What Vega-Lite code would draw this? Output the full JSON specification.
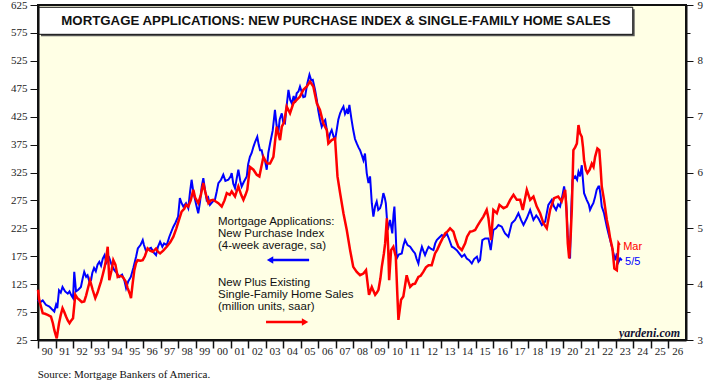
{
  "$schema": "https://vega.github.io/schema/vega-lite/v6.json",
  "width": 648,
  "height": 335,
  "autosize": "none",
  "padding": {"left": 38, "top": 5, "right": 30, "bottom": 44},
  "background": "white",
  "config": {
    "view": {"fill": "#ffffe5", "stroke": "#111111", "strokeWidth": 2},
    "font": "Liberation Sans"
  },
  "datasets": {
    "apps": [
      {"year": 1990.0, "v": 97}, {"year": 1990.1, "v": 92}, {"year": 1990.27, "v": 96}, {"year": 1990.45, "v": 88}, {"year": 1990.65, "v": 85}, {"year": 1990.8, "v": 80}, {"year": 1990.93, "v": 76}, {"year": 1991.03, "v": 88}, {"year": 1991.1, "v": 82}, {"year": 1991.2, "v": 114}, {"year": 1991.3, "v": 110}, {"year": 1991.4, "v": 120}, {"year": 1991.55, "v": 112}, {"year": 1991.7, "v": 108}, {"year": 1991.8, "v": 112}, {"year": 1991.9, "v": 105}, {"year": 1992.0, "v": 100}, {"year": 1992.07, "v": 147}, {"year": 1992.12, "v": 130}, {"year": 1992.17, "v": 112}, {"year": 1992.3, "v": 115}, {"year": 1992.45, "v": 120}, {"year": 1992.55, "v": 135}, {"year": 1992.64, "v": 147}, {"year": 1992.75, "v": 138}, {"year": 1992.83, "v": 141}, {"year": 1992.93, "v": 130}, {"year": 1993.03, "v": 132}, {"year": 1993.1, "v": 145}, {"year": 1993.2, "v": 154}, {"year": 1993.3, "v": 148}, {"year": 1993.4, "v": 160}, {"year": 1993.5, "v": 165}, {"year": 1993.6, "v": 158}, {"year": 1993.7, "v": 171}, {"year": 1993.8, "v": 177}, {"year": 1993.9, "v": 163}, {"year": 1994.0, "v": 168}, {"year": 1994.07, "v": 172}, {"year": 1994.2, "v": 160}, {"year": 1994.36, "v": 150}, {"year": 1994.5, "v": 145}, {"year": 1994.64, "v": 138}, {"year": 1994.8, "v": 142}, {"year": 1994.93, "v": 132}, {"year": 1995.03, "v": 118}, {"year": 1995.15, "v": 130}, {"year": 1995.3, "v": 138}, {"year": 1995.45, "v": 155}, {"year": 1995.6, "v": 174}, {"year": 1995.7, "v": 189}, {"year": 1995.85, "v": 195}, {"year": 1995.98, "v": 204}, {"year": 1996.05, "v": 195}, {"year": 1996.17, "v": 184}, {"year": 1996.3, "v": 188}, {"year": 1996.45, "v": 190}, {"year": 1996.6, "v": 182}, {"year": 1996.74, "v": 177}, {"year": 1996.85, "v": 192}, {"year": 1996.97, "v": 201}, {"year": 1997.1, "v": 192}, {"year": 1997.2, "v": 198}, {"year": 1997.35, "v": 195}, {"year": 1997.5, "v": 210}, {"year": 1997.6, "v": 218}, {"year": 1997.73, "v": 228}, {"year": 1997.85, "v": 235}, {"year": 1998.0, "v": 246}, {"year": 1998.1, "v": 279}, {"year": 1998.2, "v": 270}, {"year": 1998.3, "v": 264}, {"year": 1998.45, "v": 270}, {"year": 1998.58, "v": 261}, {"year": 1998.68, "v": 290}, {"year": 1998.77, "v": 312}, {"year": 1998.87, "v": 290}, {"year": 1998.97, "v": 276}, {"year": 1999.05, "v": 265}, {"year": 1999.15, "v": 252}, {"year": 1999.25, "v": 272}, {"year": 1999.35, "v": 300}, {"year": 1999.44, "v": 315}, {"year": 1999.53, "v": 295}, {"year": 1999.63, "v": 276}, {"year": 1999.72, "v": 280}, {"year": 1999.82, "v": 267}, {"year": 1999.95, "v": 272}, {"year": 2000.1, "v": 276}, {"year": 2000.2, "v": 290}, {"year": 2000.3, "v": 306}, {"year": 2000.45, "v": 312}, {"year": 2000.58, "v": 321}, {"year": 2000.7, "v": 310}, {"year": 2000.87, "v": 312}, {"year": 2001.0, "v": 318}, {"year": 2001.06, "v": 324}, {"year": 2001.15, "v": 305}, {"year": 2001.25, "v": 297}, {"year": 2001.35, "v": 315}, {"year": 2001.44, "v": 330}, {"year": 2001.55, "v": 310}, {"year": 2001.63, "v": 300}, {"year": 2001.75, "v": 308}, {"year": 2001.92, "v": 318}, {"year": 2002.0, "v": 340}, {"year": 2002.1, "v": 353}, {"year": 2002.2, "v": 360}, {"year": 2002.3, "v": 371}, {"year": 2002.4, "v": 380}, {"year": 2002.52, "v": 389}, {"year": 2002.6, "v": 375}, {"year": 2002.68, "v": 365}, {"year": 2002.77, "v": 365}, {"year": 2002.87, "v": 350}, {"year": 2002.96, "v": 347}, {"year": 2003.06, "v": 330}, {"year": 2003.15, "v": 360}, {"year": 2003.25, "v": 377}, {"year": 2003.4, "v": 400}, {"year": 2003.53, "v": 437}, {"year": 2003.62, "v": 410}, {"year": 2003.72, "v": 395}, {"year": 2003.8, "v": 420}, {"year": 2003.92, "v": 431}, {"year": 2004.0, "v": 415}, {"year": 2004.1, "v": 413}, {"year": 2004.2, "v": 445}, {"year": 2004.3, "v": 473}, {"year": 2004.4, "v": 455}, {"year": 2004.49, "v": 449}, {"year": 2004.6, "v": 462}, {"year": 2004.68, "v": 450}, {"year": 2004.77, "v": 467}, {"year": 2004.87, "v": 470}, {"year": 2004.96, "v": 479}, {"year": 2005.05, "v": 470}, {"year": 2005.15, "v": 460}, {"year": 2005.25, "v": 461}, {"year": 2005.38, "v": 485}, {"year": 2005.5, "v": 500}, {"year": 2005.6, "v": 490}, {"year": 2005.69, "v": 491}, {"year": 2005.82, "v": 473}, {"year": 2005.92, "v": 455}, {"year": 2006.0, "v": 437}, {"year": 2006.1, "v": 420}, {"year": 2006.2, "v": 407}, {"year": 2006.3, "v": 415}, {"year": 2006.4, "v": 419}, {"year": 2006.5, "v": 400}, {"year": 2006.58, "v": 383}, {"year": 2006.68, "v": 395}, {"year": 2006.77, "v": 401}, {"year": 2006.87, "v": 390}, {"year": 2006.96, "v": 383}, {"year": 2007.05, "v": 400}, {"year": 2007.15, "v": 420}, {"year": 2007.25, "v": 431}, {"year": 2007.35, "v": 438}, {"year": 2007.44, "v": 443}, {"year": 2007.53, "v": 430}, {"year": 2007.63, "v": 437}, {"year": 2007.7, "v": 430}, {"year": 2007.78, "v": 446}, {"year": 2007.9, "v": 420}, {"year": 2008.0, "v": 401}, {"year": 2008.1, "v": 385}, {"year": 2008.2, "v": 377}, {"year": 2008.3, "v": 370}, {"year": 2008.39, "v": 365}, {"year": 2008.5, "v": 355}, {"year": 2008.58, "v": 347}, {"year": 2008.67, "v": 359}, {"year": 2008.77, "v": 324}, {"year": 2008.87, "v": 306}, {"year": 2008.96, "v": 318}, {"year": 2009.06, "v": 270}, {"year": 2009.15, "v": 246}, {"year": 2009.25, "v": 265}, {"year": 2009.34, "v": 273}, {"year": 2009.43, "v": 258}, {"year": 2009.53, "v": 261}, {"year": 2009.62, "v": 270}, {"year": 2009.72, "v": 288}, {"year": 2009.8, "v": 280}, {"year": 2009.86, "v": 270}, {"year": 2009.97, "v": 222}, {"year": 2010.1, "v": 240}, {"year": 2010.23, "v": 216}, {"year": 2010.3, "v": 250}, {"year": 2010.35, "v": 264}, {"year": 2010.42, "v": 220}, {"year": 2010.48, "v": 171}, {"year": 2010.6, "v": 178}, {"year": 2010.77, "v": 180}, {"year": 2010.87, "v": 195}, {"year": 2010.96, "v": 204}, {"year": 2011.1, "v": 195}, {"year": 2011.25, "v": 192}, {"year": 2011.4, "v": 185}, {"year": 2011.53, "v": 180}, {"year": 2011.62, "v": 170}, {"year": 2011.72, "v": 162}, {"year": 2011.82, "v": 180}, {"year": 2011.92, "v": 192}, {"year": 2012.0, "v": 185}, {"year": 2012.1, "v": 177}, {"year": 2012.2, "v": 185}, {"year": 2012.3, "v": 192}, {"year": 2012.45, "v": 188}, {"year": 2012.58, "v": 186}, {"year": 2012.68, "v": 198}, {"year": 2012.77, "v": 204}, {"year": 2012.9, "v": 208}, {"year": 2013.06, "v": 213}, {"year": 2013.2, "v": 210}, {"year": 2013.34, "v": 216}, {"year": 2013.48, "v": 205}, {"year": 2013.63, "v": 192}, {"year": 2013.75, "v": 190}, {"year": 2013.91, "v": 186}, {"year": 2014.05, "v": 180}, {"year": 2014.2, "v": 174}, {"year": 2014.35, "v": 178}, {"year": 2014.48, "v": 171}, {"year": 2014.62, "v": 168}, {"year": 2014.77, "v": 162}, {"year": 2014.9, "v": 170}, {"year": 2015.06, "v": 174}, {"year": 2015.15, "v": 165}, {"year": 2015.24, "v": 168}, {"year": 2015.37, "v": 204}, {"year": 2015.53, "v": 207}, {"year": 2015.72, "v": 207}, {"year": 2015.85, "v": 186}, {"year": 2016.0, "v": 222}, {"year": 2016.15, "v": 225}, {"year": 2016.29, "v": 231}, {"year": 2016.48, "v": 228}, {"year": 2016.6, "v": 220}, {"year": 2016.67, "v": 216}, {"year": 2016.86, "v": 210}, {"year": 2017.05, "v": 234}, {"year": 2017.24, "v": 240}, {"year": 2017.43, "v": 252}, {"year": 2017.58, "v": 240}, {"year": 2017.72, "v": 231}, {"year": 2017.91, "v": 243}, {"year": 2018.1, "v": 258}, {"year": 2018.29, "v": 240}, {"year": 2018.45, "v": 248}, {"year": 2018.57, "v": 243}, {"year": 2018.77, "v": 231}, {"year": 2018.96, "v": 237}, {"year": 2019.14, "v": 267}, {"year": 2019.34, "v": 276}, {"year": 2019.45, "v": 265}, {"year": 2019.58, "v": 258}, {"year": 2019.7, "v": 268}, {"year": 2019.81, "v": 264}, {"year": 2019.95, "v": 285}, {"year": 2020.04, "v": 300}, {"year": 2020.15, "v": 276}, {"year": 2020.25, "v": 210}, {"year": 2020.33, "v": 180}, {"year": 2020.38, "v": 171}, {"year": 2020.45, "v": 260}, {"year": 2020.52, "v": 312}, {"year": 2020.67, "v": 318}, {"year": 2020.78, "v": 312}, {"year": 2020.86, "v": 326}, {"year": 2020.95, "v": 318}, {"year": 2021.05, "v": 338}, {"year": 2021.12, "v": 310}, {"year": 2021.18, "v": 288}, {"year": 2021.33, "v": 276}, {"year": 2021.45, "v": 268}, {"year": 2021.52, "v": 258}, {"year": 2021.62, "v": 265}, {"year": 2021.71, "v": 270}, {"year": 2021.8, "v": 280}, {"year": 2021.9, "v": 294}, {"year": 2022.0, "v": 300}, {"year": 2022.05, "v": 300}, {"year": 2022.12, "v": 285}, {"year": 2022.19, "v": 264}, {"year": 2022.32, "v": 252}, {"year": 2022.4, "v": 240}, {"year": 2022.48, "v": 228}, {"year": 2022.58, "v": 215}, {"year": 2022.67, "v": 204}, {"year": 2022.78, "v": 190}, {"year": 2022.86, "v": 180}, {"year": 2022.96, "v": 168}, {"year": 2023.05, "v": 180}, {"year": 2023.15, "v": 165}, {"year": 2023.24, "v": 171}, {"year": 2023.34, "v": 168}
    ],
    "sales": [
      {"year": 1990.0, "v": 3.9}, {"year": 1990.07, "v": 3.72}, {"year": 1990.17, "v": 3.6}, {"year": 1990.27, "v": 3.48}, {"year": 1990.4, "v": 3.47}, {"year": 1990.55, "v": 3.45}, {"year": 1990.74, "v": 3.42}, {"year": 1990.85, "v": 3.3}, {"year": 1990.93, "v": 3.18}, {"year": 1991.0, "v": 3.1}, {"year": 1991.07, "v": 3.03}, {"year": 1991.2, "v": 3.3}, {"year": 1991.3, "v": 3.45}, {"year": 1991.4, "v": 3.57}, {"year": 1991.5, "v": 3.5}, {"year": 1991.6, "v": 3.42}, {"year": 1991.7, "v": 3.35}, {"year": 1991.8, "v": 3.3}, {"year": 1991.9, "v": 3.35}, {"year": 1992.0, "v": 3.39}, {"year": 1992.13, "v": 3.81}, {"year": 1992.25, "v": 3.75}, {"year": 1992.36, "v": 3.72}, {"year": 1992.5, "v": 3.68}, {"year": 1992.64, "v": 3.69}, {"year": 1992.75, "v": 3.8}, {"year": 1992.83, "v": 3.9}, {"year": 1992.97, "v": 4.07}, {"year": 1993.05, "v": 3.98}, {"year": 1993.12, "v": 3.9}, {"year": 1993.27, "v": 3.75}, {"year": 1993.4, "v": 3.85}, {"year": 1993.5, "v": 3.95}, {"year": 1993.6, "v": 4.05}, {"year": 1993.69, "v": 4.16}, {"year": 1993.8, "v": 4.3}, {"year": 1993.88, "v": 4.43}, {"year": 1993.98, "v": 4.67}, {"year": 1994.07, "v": 4.07}, {"year": 1994.2, "v": 4.25}, {"year": 1994.3, "v": 4.43}, {"year": 1994.42, "v": 4.35}, {"year": 1994.55, "v": 4.13}, {"year": 1994.7, "v": 4.15}, {"year": 1994.84, "v": 4.13}, {"year": 1995.0, "v": 4.05}, {"year": 1995.12, "v": 3.93}, {"year": 1995.25, "v": 3.82}, {"year": 1995.31, "v": 3.75}, {"year": 1995.4, "v": 4.0}, {"year": 1995.5, "v": 4.25}, {"year": 1995.6, "v": 4.38}, {"year": 1995.69, "v": 4.43}, {"year": 1995.85, "v": 4.42}, {"year": 1995.98, "v": 4.43}, {"year": 1996.1, "v": 4.5}, {"year": 1996.26, "v": 4.64}, {"year": 1996.4, "v": 4.6}, {"year": 1996.55, "v": 4.58}, {"year": 1996.74, "v": 4.64}, {"year": 1996.85, "v": 4.58}, {"year": 1996.97, "v": 4.55}, {"year": 1997.15, "v": 4.6}, {"year": 1997.35, "v": 4.67}, {"year": 1997.55, "v": 4.75}, {"year": 1997.73, "v": 4.85}, {"year": 1997.9, "v": 5.0}, {"year": 1998.05, "v": 5.15}, {"year": 1998.2, "v": 5.3}, {"year": 1998.35, "v": 5.35}, {"year": 1998.45, "v": 5.42}, {"year": 1998.58, "v": 5.39}, {"year": 1998.72, "v": 5.5}, {"year": 1998.87, "v": 5.69}, {"year": 1998.97, "v": 5.55}, {"year": 1999.15, "v": 5.45}, {"year": 1999.3, "v": 5.6}, {"year": 1999.44, "v": 5.81}, {"year": 1999.55, "v": 5.65}, {"year": 1999.73, "v": 5.45}, {"year": 1999.87, "v": 5.5}, {"year": 2000.0, "v": 5.51}, {"year": 2000.15, "v": 5.48}, {"year": 2000.3, "v": 5.45}, {"year": 2000.49, "v": 5.39}, {"year": 2000.65, "v": 5.5}, {"year": 2000.78, "v": 5.63}, {"year": 2000.95, "v": 5.6}, {"year": 2001.06, "v": 5.66}, {"year": 2001.25, "v": 5.57}, {"year": 2001.44, "v": 5.75}, {"year": 2001.6, "v": 5.6}, {"year": 2001.73, "v": 5.51}, {"year": 2001.85, "v": 5.6}, {"year": 2001.95, "v": 5.69}, {"year": 2002.1, "v": 6.1}, {"year": 2002.3, "v": 6.05}, {"year": 2002.49, "v": 5.96}, {"year": 2002.64, "v": 5.93}, {"year": 2002.75, "v": 6.1}, {"year": 2002.87, "v": 6.28}, {"year": 2003.0, "v": 6.2}, {"year": 2003.1, "v": 6.16}, {"year": 2003.25, "v": 6.16}, {"year": 2003.44, "v": 6.28}, {"year": 2003.55, "v": 6.6}, {"year": 2003.63, "v": 6.82}, {"year": 2003.72, "v": 6.7}, {"year": 2003.82, "v": 6.58}, {"year": 2003.92, "v": 6.82}, {"year": 2004.05, "v": 6.9}, {"year": 2004.2, "v": 7.18}, {"year": 2004.39, "v": 7.06}, {"year": 2004.58, "v": 7.24}, {"year": 2004.77, "v": 7.3}, {"year": 2004.96, "v": 7.36}, {"year": 2005.15, "v": 7.48}, {"year": 2005.35, "v": 7.54}, {"year": 2005.53, "v": 7.63}, {"year": 2005.72, "v": 7.54}, {"year": 2005.92, "v": 7.24}, {"year": 2006.1, "v": 7.12}, {"year": 2006.29, "v": 6.88}, {"year": 2006.49, "v": 6.76}, {"year": 2006.58, "v": 6.52}, {"year": 2006.77, "v": 6.58}, {"year": 2006.96, "v": 6.61}, {"year": 2007.1, "v": 5.93}, {"year": 2007.25, "v": 5.63}, {"year": 2007.44, "v": 5.27}, {"year": 2007.63, "v": 4.97}, {"year": 2007.82, "v": 4.61}, {"year": 2008.0, "v": 4.31}, {"year": 2008.2, "v": 4.22}, {"year": 2008.39, "v": 4.16}, {"year": 2008.58, "v": 4.19}, {"year": 2008.73, "v": 4.25}, {"year": 2008.9, "v": 3.81}, {"year": 2009.06, "v": 3.95}, {"year": 2009.15, "v": 3.88}, {"year": 2009.25, "v": 3.81}, {"year": 2009.35, "v": 3.85}, {"year": 2009.44, "v": 3.9}, {"year": 2009.55, "v": 4.1}, {"year": 2009.63, "v": 4.31}, {"year": 2009.75, "v": 4.55}, {"year": 2009.82, "v": 4.73}, {"year": 2009.92, "v": 5.18}, {"year": 2010.0, "v": 4.6}, {"year": 2010.05, "v": 4.07}, {"year": 2010.16, "v": 4.61}, {"year": 2010.29, "v": 4.67}, {"year": 2010.43, "v": 4.49}, {"year": 2010.52, "v": 3.8}, {"year": 2010.58, "v": 3.36}, {"year": 2010.73, "v": 3.72}, {"year": 2010.86, "v": 3.78}, {"year": 2011.05, "v": 4.16}, {"year": 2011.15, "v": 4.05}, {"year": 2011.25, "v": 3.95}, {"year": 2011.4, "v": 4.0}, {"year": 2011.53, "v": 4.01}, {"year": 2011.72, "v": 4.13}, {"year": 2011.85, "v": 4.15}, {"year": 2012.0, "v": 4.22}, {"year": 2012.15, "v": 4.3}, {"year": 2012.3, "v": 4.34}, {"year": 2012.48, "v": 4.34}, {"year": 2012.67, "v": 4.55}, {"year": 2012.8, "v": 4.62}, {"year": 2012.96, "v": 4.73}, {"year": 2013.1, "v": 4.82}, {"year": 2013.25, "v": 4.91}, {"year": 2013.4, "v": 4.95}, {"year": 2013.53, "v": 5.0}, {"year": 2013.72, "v": 4.94}, {"year": 2013.85, "v": 4.8}, {"year": 2014.0, "v": 4.67}, {"year": 2014.2, "v": 4.61}, {"year": 2014.39, "v": 4.73}, {"year": 2014.5, "v": 4.85}, {"year": 2014.67, "v": 4.94}, {"year": 2014.82, "v": 4.95}, {"year": 2014.96, "v": 4.97}, {"year": 2015.1, "v": 5.05}, {"year": 2015.24, "v": 5.12}, {"year": 2015.43, "v": 5.21}, {"year": 2015.62, "v": 5.33}, {"year": 2015.72, "v": 5.18}, {"year": 2015.87, "v": 4.79}, {"year": 2016.0, "v": 5.33}, {"year": 2016.2, "v": 5.27}, {"year": 2016.35, "v": 5.42}, {"year": 2016.58, "v": 5.36}, {"year": 2016.77, "v": 5.39}, {"year": 2016.96, "v": 5.51}, {"year": 2017.15, "v": 5.6}, {"year": 2017.34, "v": 5.51}, {"year": 2017.53, "v": 5.51}, {"year": 2017.68, "v": 5.33}, {"year": 2017.91, "v": 5.69}, {"year": 2018.1, "v": 5.51}, {"year": 2018.29, "v": 5.57}, {"year": 2018.48, "v": 5.39}, {"year": 2018.67, "v": 5.27}, {"year": 2018.86, "v": 5.09}, {"year": 2019.05, "v": 5.0}, {"year": 2019.24, "v": 5.33}, {"year": 2019.47, "v": 5.54}, {"year": 2019.7, "v": 5.57}, {"year": 2019.9, "v": 5.48}, {"year": 2020.1, "v": 5.69}, {"year": 2020.18, "v": 5.3}, {"year": 2020.25, "v": 4.73}, {"year": 2020.33, "v": 4.46}, {"year": 2020.42, "v": 4.9}, {"year": 2020.48, "v": 5.33}, {"year": 2020.57, "v": 6.4}, {"year": 2020.67, "v": 6.45}, {"year": 2020.77, "v": 6.52}, {"year": 2020.86, "v": 6.85}, {"year": 2020.95, "v": 6.7}, {"year": 2021.05, "v": 6.64}, {"year": 2021.12, "v": 6.45}, {"year": 2021.18, "v": 6.22}, {"year": 2021.28, "v": 6.05}, {"year": 2021.37, "v": 5.99}, {"year": 2021.5, "v": 6.05}, {"year": 2021.62, "v": 6.16}, {"year": 2021.72, "v": 6.1}, {"year": 2021.81, "v": 6.28}, {"year": 2021.94, "v": 6.43}, {"year": 2022.05, "v": 6.4}, {"year": 2022.12, "v": 6.1}, {"year": 2022.19, "v": 5.75}, {"year": 2022.32, "v": 5.51}, {"year": 2022.48, "v": 5.15}, {"year": 2022.58, "v": 5.0}, {"year": 2022.67, "v": 4.82}, {"year": 2022.8, "v": 4.64}, {"year": 2022.91, "v": 4.28}, {"year": 2023.05, "v": 4.25}, {"year": 2023.15, "v": 4.73}, {"year": 2023.21, "v": 4.7}
    ]
  },
  "layer": [
    {
      "data": {"name": "apps"},
      "mark": {"type": "line", "color": "#0000ff", "strokeWidth": 2},
      "encoding": {
        "x": {
          "field": "year", "type": "quantitative",
          "scale": {"domain": [1990, 2027], "nice": false, "zero": false},
          "axis": {
            "title": null, "orient": "bottom",
            "values": [1990,1991,1992,1993,1994,1995,1996,1997,1998,1999,2000,2001,2002,2003,2004,2005,2006,2007,2008,2009,2010,2011,2012,2013,2014,2015,2016,2017,2018,2019,2020,2021,2022,2023,2024,2025,2026],
            "labelExpr": "format(datum.value % 100, '02d')",
            "labelOffset": 8.75, "labelFlush": false, "labelOverlap": false,
            "tickSize": 8, "tickColor": "#111111", "tickWidth": 1.5,
            "domainColor": "#111111", "domainWidth": 2,
            "labelPadding": -3, "labelFont": "Liberation Serif", "labelFontSize": 11, "labelColor": "#222222",
            "grid": false
          }
        },
        "y": {
          "field": "v", "type": "quantitative",
          "scale": {"domain": [25, 625], "nice": false, "zero": false},
          "axis": {
            "title": null, "orient": "left",
            "values": [25,75,125,175,225,275,325,375,425,475,525,575,625],
            "labelFlush": false, "labelOverlap": false,
            "tickSize": 8, "tickColor": "#111111", "tickWidth": 1,
            "domainColor": "#111111", "domainWidth": 2,
            "labelPadding": 3, "labelFont": "Liberation Serif", "labelFontSize": 11, "labelColor": "#222222",
            "grid": false
          }
        }
      }
    },
    {
      "data": {"name": "sales"},
      "mark": {"type": "line", "color": "#ff0000", "strokeWidth": 2.5},
      "encoding": {
        "x": {"field": "year", "type": "quantitative", "scale": {"domain": [1990, 2027], "nice": false, "zero": false}, "axis": null},
        "y": {
          "field": "v", "type": "quantitative",
          "scale": {"domain": [3, 9], "nice": false, "zero": false},
          "axis": {
            "title": null, "orient": "right",
            "values": [3, 3.5, 4, 4.5, 5, 5.5, 6, 6.5, 7, 7.5, 8, 8.5, 9],
            "labelExpr": "datum.value % 1 === 0 ? format(datum.value, 'd') : ''",
            "labelFlush": false, "labelOverlap": false,
            "tickSize": {"condition": {"test": "datum.value % 1 !== 0", "value": 4}, "value": 7},
            "tickColor": "#111111", "tickWidth": 1,
            "domainColor": "#111111", "domainWidth": 2,
            "labelPadding": 4, "labelFont": "Liberation Serif", "labelFontSize": 11, "labelColor": "#222222",
            "grid": false
          }
        }
      }
    },
    {
      "data": {"values": [{}]},
      "mark": {"type": "rect", "fill": "#555555"},
      "encoding": {
        "x": {"datum": 1990.17, "type": "quantitative", "scale": {"domain": [1990, 2027], "nice": false, "zero": false}, "axis": null},
        "x2": {"datum": 2024.07},
        "y": {"datum": 617.3, "type": "quantitative", "scale": {"domain": [25, 625], "nice": false, "zero": false}, "axis": null},
        "y2": {"datum": 568.9}
      }
    },
    {
      "data": {"values": [{}]},
      "mark": {"type": "rect", "fill": "#ffffff", "stroke": "#111111", "strokeWidth": 1},
      "encoding": {
        "x": {"datum": 1990.06, "type": "quantitative", "scale": {"domain": [1990, 2027], "nice": false, "zero": false}, "axis": null},
        "x2": {"datum": 2023.96},
        "y": {"datum": 620.9, "type": "quantitative", "scale": {"domain": [25, 625], "nice": false, "zero": false}, "axis": null},
        "y2": {"datum": 572.5}
      }
    },
    {
      "data": {"values": [{}]},
      "mark": {"type": "text", "text": "MORTGAGE APPLICATIONS: NEW PURCHASE INDEX & SINGLE-FAMILY HOME SALES", "font": "Liberation Sans", "fontWeight": "bold", "fontSize": 13.25, "color": "#111111", "align": "center", "baseline": "middle"},
      "encoding": {
        "x": {"datum": 2007.01, "type": "quantitative", "scale": {"domain": [1990, 2027], "nice": false, "zero": false}, "axis": null},
        "y": {"datum": 596.4, "type": "quantitative", "scale": {"domain": [25, 625], "nice": false, "zero": false}, "axis": null}
      }
    },
    {
      "data": {"values": [{}]},
      "mark": {"type": "text", "text": ["Mortgage Applications:", "New Purchase Index", "(4-week average, sa)"], "font": "Liberation Sans", "fontSize": 11.5, "lineHeight": 12, "color": "#111111", "align": "left", "baseline": "top"},
      "encoding": {
        "x": {"datum": 2000.28, "type": "quantitative", "scale": {"domain": [1990, 2027], "nice": false, "zero": false}, "axis": null},
        "y": {"datum": 246.5, "type": "quantitative", "scale": {"domain": [25, 625], "nice": false, "zero": false}, "axis": null}
      }
    },
    {
      "data": {"values": [{}]},
      "mark": {"type": "text", "text": ["New Plus Existing", "Single-Family Home Sales", "(million units, saar)"], "font": "Liberation Sans", "fontSize": 11.5, "lineHeight": 12, "color": "#111111", "align": "left", "baseline": "top"},
      "encoding": {
        "x": {"datum": 2000.28, "type": "quantitative", "scale": {"domain": [1990, 2027], "nice": false, "zero": false}, "axis": null},
        "y": {"datum": 137.8, "type": "quantitative", "scale": {"domain": [25, 625], "nice": false, "zero": false}, "axis": null}
      }
    },
    {
      "data": {"values": [{}]},
      "mark": {"type": "rule", "color": "#0000ff", "strokeWidth": 2.5},
      "encoding": {
        "x": {"datum": 2003.3, "type": "quantitative", "scale": {"domain": [1990, 2027], "nice": false, "zero": false}, "axis": null},
        "x2": {"datum": 2005.48},
        "y": {"datum": 168.3, "type": "quantitative", "scale": {"domain": [25, 625], "nice": false, "zero": false}, "axis": null}
      }
    },
    {
      "data": {"values": [{}]},
      "mark": {"type": "point", "shape": "triangle-left", "filled": true, "color": "#0000ff", "size": 55, "opacity": 1},
      "encoding": {
        "x": {"datum": 2003.25, "type": "quantitative", "scale": {"domain": [1990, 2027], "nice": false, "zero": false}, "axis": null},
        "y": {"datum": 168.3, "type": "quantitative", "scale": {"domain": [25, 625], "nice": false, "zero": false}, "axis": null}
      }
    },
    {
      "data": {"values": [{}]},
      "mark": {"type": "rule", "color": "#ff0000", "strokeWidth": 2.5},
      "encoding": {
        "x": {"datum": 2003.02, "type": "quantitative", "scale": {"domain": [1990, 2027], "nice": false, "zero": false}, "axis": null},
        "x2": {"datum": 2005.2},
        "y": {"datum": 57.2, "type": "quantitative", "scale": {"domain": [25, 625], "nice": false, "zero": false}, "axis": null}
      }
    },
    {
      "data": {"values": [{}]},
      "mark": {"type": "point", "shape": "triangle-right", "filled": true, "color": "#ff0000", "size": 55, "opacity": 1},
      "encoding": {
        "x": {"datum": 2005.25, "type": "quantitative", "scale": {"domain": [1990, 2027], "nice": false, "zero": false}, "axis": null},
        "y": {"datum": 57.2, "type": "quantitative", "scale": {"domain": [25, 625], "nice": false, "zero": false}, "axis": null}
      }
    },
    {
      "data": {"values": [{}]},
      "mark": {"type": "text", "text": "yardeni.com", "font": "Liberation Serif", "fontWeight": "bold", "fontStyle": "italic", "fontSize": 12, "color": "#111133", "align": "right", "baseline": "middle"},
      "encoding": {
        "x": {"datum": 2026.66, "type": "quantitative", "scale": {"domain": [1990, 2027], "nice": false, "zero": false}, "axis": null},
        "y": {"datum": 38.1, "type": "quantitative", "scale": {"domain": [25, 625], "nice": false, "zero": false}, "axis": null}
      }
    },
    {
      "data": {"values": [{}]},
      "mark": {"type": "text", "text": "Source: Mortgage Bankers of America.", "font": "Liberation Serif", "fontSize": 11, "color": "#111111", "align": "left", "baseline": "middle"},
      "encoding": {
        "x": {"datum": 1989.98, "type": "quantitative", "scale": {"domain": [1990, 2027], "nice": false, "zero": false}, "axis": null},
        "y": {"datum": -37.7, "type": "quantitative", "scale": {"domain": [25, 625], "nice": false, "zero": false}, "axis": null}
      }
    },
    {
      "data": {"values": [{}]},
      "mark": {"type": "text", "text": "Mar", "font": "Liberation Sans", "fontSize": 11, "color": "#ff0000", "align": "left", "baseline": "middle"},
      "encoding": {
        "x": {"datum": 2023.41, "type": "quantitative", "scale": {"domain": [1990, 2027], "nice": false, "zero": false}, "axis": null},
        "y": {"datum": 192, "type": "quantitative", "scale": {"domain": [25, 625], "nice": false, "zero": false}, "axis": null}
      }
    },
    {
      "data": {"values": [{}]},
      "mark": {"type": "text", "text": "5/5", "font": "Liberation Sans", "fontSize": 11, "color": "#0000ff", "align": "left", "baseline": "middle"},
      "encoding": {
        "x": {"datum": 2023.52, "type": "quantitative", "scale": {"domain": [1990, 2027], "nice": false, "zero": false}, "axis": null},
        "y": {"datum": 165.2, "type": "quantitative", "scale": {"domain": [25, 625], "nice": false, "zero": false}, "axis": null}
      }
    }
  ],
  "resolve": {"scale": {"y": "independent"}, "axis": {"x": "independent"}}
}
